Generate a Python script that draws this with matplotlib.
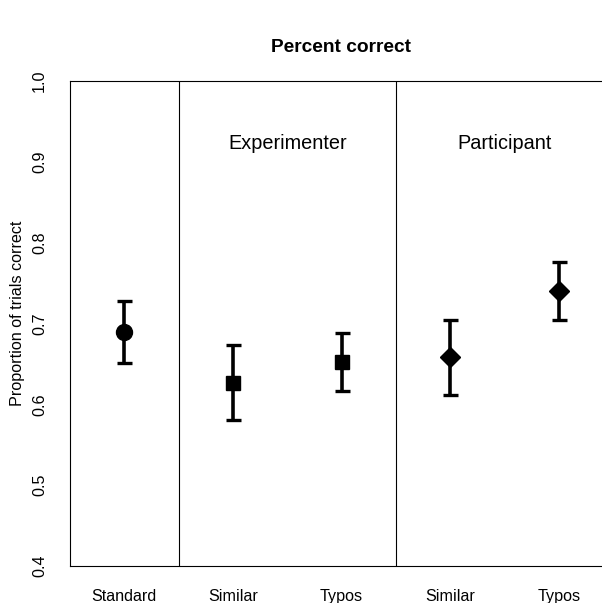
import matplotlib
matplotlib.use("Agg")
import matplotlib.pyplot as plt

plt.rcParams['font.family'] = ['Liberation Sans', 'DejaVu Sans']

# data
labels = ["Standard", "Similar", "Typos", "Similar", "Typos"]
means = [0.689, 0.627, 0.652, 0.658, 0.740]
upper = [0.728, 0.674, 0.688, 0.704, 0.776]
lower = [0.651, 0.581, 0.617, 0.611, 0.704]
markers = ["o", "s", "s", "D", "D"]
msizes = [11.5, 10, 10, 10.5, 10.5]
groups = ["Experimenter", "Participant"]
group_x = [2.5, 4.5]
dividers = [1.5, 3.5]

fig = plt.figure(figsize=(6.02, 6.03), dpi=100)
ax = fig.add_axes([70 / 602, 37 / 603, 543 / 602, 485 / 603])

xs = range(1, len(labels) + 1)
for x, m, lo, hi, mk, ms in zip(xs, means, lower, upper, markers, msizes):
    ax.errorbar(x, m, yerr=[[m - lo], [hi - m]], fmt=mk, color="black",
                markersize=ms, elinewidth=2.6, capsize=5.4, capthick=2.4)

for d in dividers:
    ax.axvline(d, color="black", lw=0.8)
for gx, g in zip(group_x, groups):
    ax.text(gx, 0.923, g, ha="center", va="center", fontsize=14.3)

ax.set_xlim(0.5, 5.5)
ax.set_ylim(0.4, 1.0)
ax.set_xticks(list(xs))
ax.set_xticklabels(labels, fontsize=11.6)
ax.set_yticks([0.4, 0.5, 0.6, 0.7, 0.8, 0.9, 1.0])
ax.set_yticklabels(["0.4", "0.5", "0.6", "0.7", "0.8", "0.9", "1.0"],
                   rotation=90, va="center", fontsize=11.6)
ax.tick_params(axis="both", length=0)
ax.tick_params(axis="x", pad=16.5)
ax.tick_params(axis="y", pad=16.5)
ax.set_ylabel("Proportion of trials correct", fontsize=11.6)
ax.yaxis.set_label_coords(-0.083, 0.52)
for s in ax.spines.values():
    s.set_linewidth(0.8)
fig.text(341 / 602, 1 - 47 / 603, "Percent correct", ha="center", va="center",
         fontsize=13.8, fontweight="bold")

fig.savefig("out.png", dpi=100)
